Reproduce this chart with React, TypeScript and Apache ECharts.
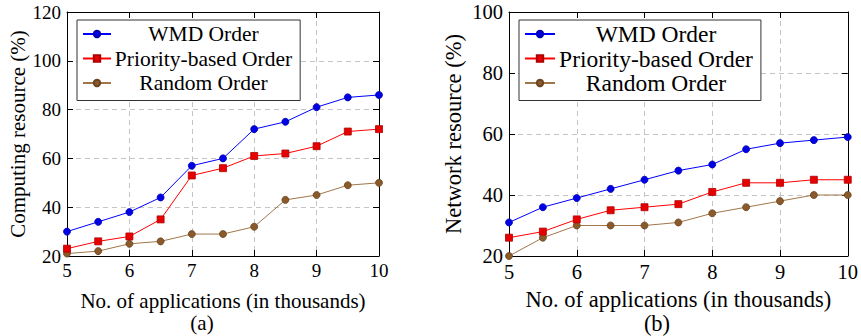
import React, { useEffect, useRef } from "react";
import * as echarts from "echarts";

const xValues = [5, 5.5, 6, 6.5, 7, 7.5, 8, 8.5, 9, 9.5, 10];
const seriesNames = ["WMD Order", "Priority-based Order", "Random Order"];

const computeWMD = [30, 34, 38, 44, 57, 60, 72, 75, 81, 85, 86];
const computePriority = [23, 26, 28, 35, 53, 56, 61, 62, 65, 71, 72];
const computeRandom = [21, 22, 25, 26, 29, 29, 32, 43, 45, 49, 50];

const networkWMD = [31, 36, 39, 42, 45, 48, 50, 55, 57, 58, 59];
const networkPriority = [26, 28, 32, 35, 36, 37, 41, 44, 44, 45, 45];
const networkRandom = [20, 26, 30, 30, 30, 31, 34, 36, 38, 40, 40];

const leftYTitle = "Computing resource (%)";
const rightYTitle = "Network resource (%)";
const xTitle = "No. of applications (in thousands)";

const FONT = "'Liberation Serif', 'DejaVu Serif', serif";
// left panel font sizes
const T1 = 21; // axis titles
const L1 = 21.5; // legend
const K1 = 19; // tick labels
// right panel font sizes
const T2 = 22.5;
const L2 = 23.5;
const K2 = 20.5;

const lineColors = ["#0000ff", "#ff0000", "#a0764a"];
const markColors = ["#0000e6", "#e60000", "#8b5a2b"];
const markBorders = ["#0000b0", "#b00000", "#6b4420"];
const symbols = ["circle", "rect", "circle"];

function pairs(ys: number[]) {
  return ys.map((y, i) => [xValues[i], y]);
}

function makeSeries(idx: number, ys: number[], axisIdx: number) {
  return {
    type: "line",
    name: seriesNames[idx],
    xAxisIndex: axisIdx,
    yAxisIndex: axisIdx,
    data: pairs(ys),
    symbol: symbols[idx],
    symbolSize: 7,
    lineStyle: { color: lineColors[idx], width: 1 },
    itemStyle: { color: markColors[idx], borderColor: markBorders[idx], borderWidth: 0.8 },
    z: 3 + (2 - idx),
  };
}

function xAxisPair(gridIndex: number, ts: number, ks: number, gap: number) {
  return [
    {
      type: "value",
      gridIndex,
      position: "bottom",
      min: 5,
      max: 10,
      interval: 1,
      name: xTitle,
      nameLocation: "middle",
      nameGap: gap,
      nameTextStyle: { fontFamily: FONT, fontSize: ts, color: "#000" },
      axisLine: { show: true, lineStyle: { color: "#000", width: 1 } },
      axisTick: { show: true, inside: true, length: 6, lineStyle: { color: "#000" } },
      axisLabel: { margin: 5, fontFamily: FONT, fontSize: ks, color: "#000" },
      splitLine: { show: true, lineStyle: { color: "#c4c4c4", type: [5, 4], width: 1 } },
    },
    {
      type: "value",
      gridIndex,
      position: "top",
      min: 5,
      max: 10,
      interval: 1,
      axisLine: { show: true, lineStyle: { color: "#000", width: 1 } },
      axisTick: { show: true, inside: true, length: 6, lineStyle: { color: "#000" } },
      axisLabel: { show: false },
      splitLine: { show: false },
    },
  ];
}

function yAxisPair(gridIndex: number, ts: number, ks: number, max: number, title: string, gap: number) {
  return [
    {
      type: "value",
      gridIndex,
      position: "left",
      min: 20,
      max,
      interval: 20,
      name: title,
      nameLocation: "middle",
      nameGap: gap,
      nameRotate: 90,
      nameTextStyle: { fontFamily: FONT, fontSize: ts, color: "#000" },
      axisLine: { show: true, lineStyle: { color: "#000", width: 1 } },
      axisTick: { show: true, inside: true, length: 6, lineStyle: { color: "#000" } },
      axisLabel: { margin: 6, fontFamily: FONT, fontSize: ks, color: "#000" },
      splitLine: { show: true, lineStyle: { color: "#c4c4c4", type: [5, 4], width: 1 } },
    },
    {
      type: "value",
      gridIndex,
      position: "right",
      min: 20,
      max,
      interval: 20,
      axisLine: { show: true, lineStyle: { color: "#000", width: 1 } },
      axisTick: { show: true, inside: true, length: 6, lineStyle: { color: "#000" } },
      axisLabel: { show: false },
      splitLine: { show: false },
    },
  ];
}

function legendFor(left: number, fs: number, textW: number, iconW: number, gap: number, pad: number[]) {
  return {
    left,
    top: 20,
    orient: "vertical",
    data: seriesNames,
    borderColor: "#333",
    borderWidth: 1,
    backgroundColor: "#fff",
    borderRadius: 0,
    padding: pad,
    itemGap: gap,
    itemWidth: iconW,
    itemHeight: 8,
    selectedMode: false,
    formatter: "{c|{name}}",
    textStyle: {
      fontFamily: FONT,
      fontSize: fs,
      color: "#000",
      rich: {
        c: { width: textW, align: "center", fontFamily: FONT, fontSize: fs, color: "#000" },
      },
    },
    z: 10,
  };
}

export default function App() {
  const ref = useRef<HTMLDivElement>(null);
  useEffect(() => {
    document.body.style.margin = "0";
    if (!ref.current) return;
    const chart = echarts.init(ref.current, undefined, { renderer: "svg" });
    const option: any = {
      animation: false,
      backgroundColor: "#fff",
      grid: [
        { left: 67, right: 482, top: 12, bottom: 80 },
        { left: 509, right: 12, top: 12, bottom: 80 },
      ],
      xAxis: [...xAxisPair(0, T1, K1, 34), ...xAxisPair(1, T2, K2, 32)],
      yAxis: [
        ...yAxisPair(0, T1, K1, 120, leftYTitle, 38),
        ...yAxisPair(1, T2, K2, 100, rightYTitle, 44),
      ],
      legend: [
        legendFor(77, L1, 175, 28, 2.5, [3, 8, 6.5, 5]),
        legendFor(519, L2, 192, 30, 0.5, [2, 8, 5.5, 5]),
      ],
      series: [
        makeSeries(0, computeWMD, 0),
        makeSeries(1, computePriority, 0),
        makeSeries(2, computeRandom, 0),
        makeSeries(0, networkWMD, 2),
        makeSeries(1, networkPriority, 2),
        makeSeries(2, networkRandom, 2),
      ],
      graphic: [
        { type: "text", x: 202, y: 322.5, style: { text: "(a)", fontFamily: FONT, fontSize: T1, fill: "#000", align: "center", verticalAlign: "middle" } },
        { type: "text", x: 657, y: 323.5, style: { text: "(b)", fontFamily: FONT, fontSize: T2, fill: "#000", align: "center", verticalAlign: "middle" } },
      ],
    };
    chart.setOption(option);
    return () => chart.dispose();
  }, []);
  return <div ref={ref} style={{ width: 861, height: 336 }} />;
}
